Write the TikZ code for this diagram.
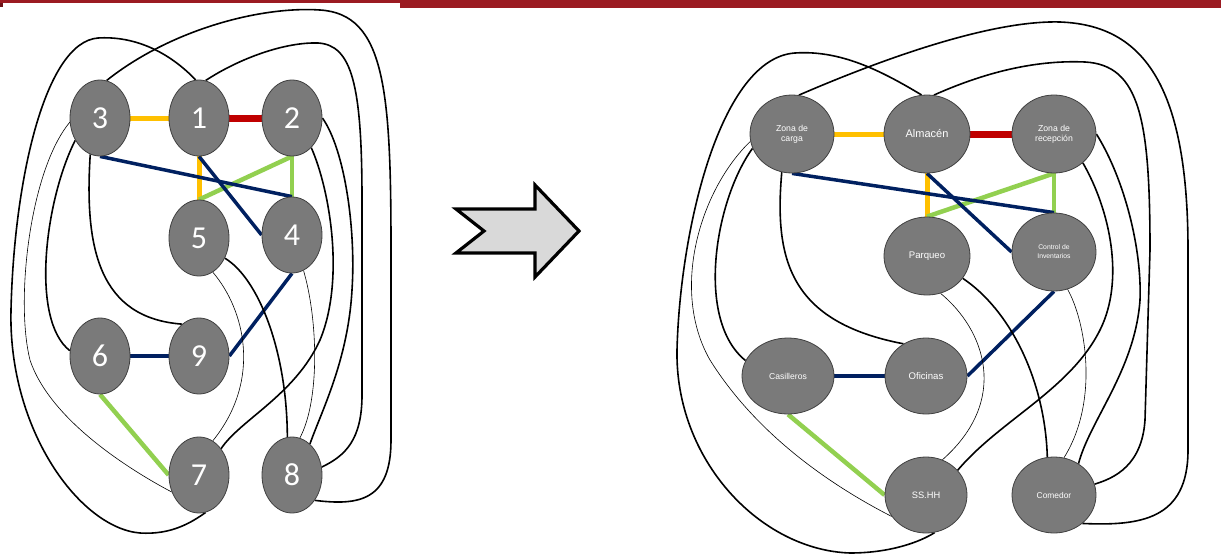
\documentclass[tikz,border=0pt]{standalone}
\usepackage{fontspec}
\setmainfont{Liberation Sans}
\newfontfamily\digitfont{Carlito}
\usetikzlibrary{shapes.geometric,backgrounds}
\definecolor{nodegray}{HTML}{7A7A7A}
\definecolor{bandred}{HTML}{9B1B22}
\definecolor{cyellow}{HTML}{FFC000}
\definecolor{cred}{HTML}{C00000}
\definecolor{cgreen}{HTML}{92D050}
\definecolor{cnavy}{HTML}{002060}
\definecolor{arrowfill}{HTML}{D9D9D9}
\begin{document}
\begin{tikzpicture}[x=1pt,y=-1pt,
  nd/.style={ellipse, draw=black!75, line width=0.8pt, fill=nodegray, text=white, inner sep=0pt, align=center},
  numnode/.style={nd, minimum width=60pt, minimum height=76pt, font=\digitfont\fontsize{32}{32}\selectfont},
  namenode/.style={nd, minimum width=84pt, minimum height=78pt},
  blk/.style={draw=black, line width=1.6pt},
  thn/.style={draw=black, line width=0.6pt},
  ylw/.style={draw=cyellow, line width=5pt},
  rd/.style={draw=cred, line width=7pt},
  grn/.style={draw=cgreen, line width=4.5pt},
  nvy/.style={draw=cnavy, line width=3.5pt}
]
\useasboundingbox (0,0) rectangle (1221,557);
% top band
\fill[bandred] (0,0) rectangle (400,3);
\fill[bandred] (400,0) rectangle (1221,8);
\fill[bandred!70!black] (0,3) rectangle (3,7);

% ---------- left graph ----------
\node[numnode] (n3) at (100,118) {3};
\node[numnode] (n1) at (199,118) {1};
\node[numnode] (n2) at (292,118) {2};
\node[numnode] (n5) at (199,238) {5};
\node[numnode] (n4) at (292,235) {4};
\node[numnode] (n6) at (100,356) {6};
\node[numnode] (n9) at (199,356) {9};
\node[numnode] (n7) at (199,475) {7};
\node[numnode] (n8) at (292,475) {8};

% ---------- right graph ----------
\node[namenode, font=\fontsize{8.7}{10}\selectfont] (zc) at (792,134) {Zona de\\carga};
\node[namenode, minimum width=86pt, font=\fontsize{11}{12}\selectfont] (al) at (927,134) {Almacén};
\node[namenode, font=\fontsize{8.7}{10}\selectfont] (zr) at (1054,134) {Zona de\\recepción};
\node[namenode, minimum width=86pt, font=\fontsize{9.6}{11}\selectfont] (pq) at (927,256) {Parqueo};
\node[namenode, font=\fontsize{6.8}{9}\selectfont] (ci) at (1054,252) {Control de\\Inventarios};
\node[namenode, minimum width=92pt, minimum height=76pt, font=\fontsize{8.6}{10}\selectfont] (ca) at (788,376) {Casilleros};
\node[namenode, minimum width=82pt, minimum height=76pt, font=\fontsize{9.6}{11}\selectfont] (of) at (926,376) {Oficinas};
\node[namenode, minimum width=82pt, minimum height=76pt, font=\fontsize{9.3}{11}\selectfont] (ss) at (926,495) {SS.HH};
\node[namenode, minimum height=76pt, font=\fontsize{8.4}{10}\selectfont] (co) at (1054,495) {Comedor};

% ---------- arrow ----------
\draw[line width=3.2pt, fill=arrowfill, line join=miter]
  (456,209) -- (484,231) -- (456,253) -- (535,253) -- (535,277) -- (579,231) -- (535,185) -- (535,209) -- cycle;

\begin{pgfonlayer}{background}
% left: colored
\draw[ylw] (n3.east) -- (n1.west);
\draw[rd] (n1.east) -- (n2.west);
\draw[ylw] (n1.south) -- (n5.north);
\draw[grn] (n2.south) -- (n5.north);
\draw[grn] (n2.south) -- (n4.north);
\draw[nvy] (n3.south) -- (n4.north);
\draw[nvy] (n1.south) -- (n4.west);
\draw[nvy] (n6.east) -- (n9.west);
\draw[nvy] (n9.east) -- (n4.south);
\draw[grn] (n6.south) -- (n7.west);
% left: black
\draw[blk] (n3.80) .. controls (170,30) and (260,6) .. (320,10)
  .. controls (385,14) and (391,90) .. (391,250) -- (391,440)
  .. controls (391,500) and (360,506) .. (n8.-48);
\draw[blk] (n1.95) .. controls (165,48) and (130,36) .. (98,38)
  .. controls (45,42) and (14,180) .. (11,310)
  .. controls (8,430) and (80,528) .. (140,533)
  .. controls (172,535) and (192,522) .. (n7.-80);
\draw[blk] (n1.80) .. controls (240,58) and (285,42) .. (318,43)
  .. controls (352,45) and (362,85) .. (362,200) -- (362,395)
  .. controls (362,440) and (345,456) .. (n8.15);
\draw[blk] (n2.0) .. controls (345,150) and (356,230) .. (352,290)
  .. controls (348,360) and (322,410) .. (n8.60);
\draw[blk] (n2.-57) .. controls (330,190) and (345,280) .. (320,340)
  .. controls (295,395) and (240,420) .. (n7.50);
\draw[blk] (n5.-38) .. controls (258,278) and (287,350) .. (n8.97);
\draw[thn] (n4.-72) .. controls (318,320) and (320,400) .. (n8.78);
\draw[thn] (n5.-68) .. controls (245,310) and (262,380) .. (n7.68);
\draw[blk] (n3.-105) .. controls (84,250) and (100,318) .. (n9.118);
\draw[blk] (n3.-138) .. controls (45,200) and (30,320) .. (n6.170);
\draw[thn] (n3.-172) .. controls (30,170) and (15,300) .. (30,360)
  .. controls (50,420) and (130,470) .. (n7.-148);

% right: colored
\draw[ylw] (zc.east) -- (al.west);
\draw[rd] (al.east) -- (zr.west);
\draw[ylw] (al.south) -- (pq.north);
\draw[grn] (zr.south) -- (pq.north);
\draw[grn] (zr.south) -- (ci.north);
\draw[nvy] (zc.south) -- (ci.north);
\draw[nvy] (al.south) -- (ci.west);
\draw[nvy] (ca.east) -- (of.west);
\draw[nvy] (of.east) -- (ci.south);
\draw[grn] (ca.south) -- (ss.west);
% right: black
\draw[blk] (zc.80) .. controls (880,60) and (990,20) .. (1060,22)
  .. controls (1140,25) and (1188,80) .. (1188,250) -- (1188,450)
  .. controls (1188,520) and (1140,526) .. (co.-45);
\draw[blk] (al.98) .. controls (880,70) and (840,50) .. (795,53)
  .. controls (720,58) and (680,230) .. (677,350)
  .. controls (675,460) and (760,550) .. (850,553)
  .. controls (890,553) and (920,542) .. (ss.-77);
\draw[blk] (al.80) .. controls (990,70) and (1040,60) .. (1085,62)
  .. controls (1140,65) and (1150,120) .. (1150,250) -- (1145,420)
  .. controls (1142,465) and (1115,478) .. (co.15);
\draw[blk] (zr.0) .. controls (1125,180) and (1142,250) .. (1140,300)
  .. controls (1135,370) and (1090,420) .. (co.52);
\draw[blk] (zr.-45) .. controls (1110,210) and (1125,280) .. (1100,330)
  .. controls (1070,390) and (1000,420) .. (ss.38);
\draw[thn] (ci.-70) .. controls (1085,320) and (1100,400) .. (co.75);
\draw[blk] (pq.-32) .. controls (1010,310) and (1045,380) .. (co.100);
\draw[thn] (pq.-70) .. controls (985,330) and (1010,400) .. (ss.65);
\draw[blk] (zc.-105) .. controls (774,260) and (790,322) .. (of.125);
\draw[blk] (zc.-160) .. controls (715,200) and (695,320) .. (ca.160);
\draw[thn] (zc.-170) .. controls (700,190) and (670,290) .. (710,360)
  .. controls (760,440) and (840,490) .. (ss.-148);
\end{pgfonlayer}
\end{tikzpicture}
\end{document}
